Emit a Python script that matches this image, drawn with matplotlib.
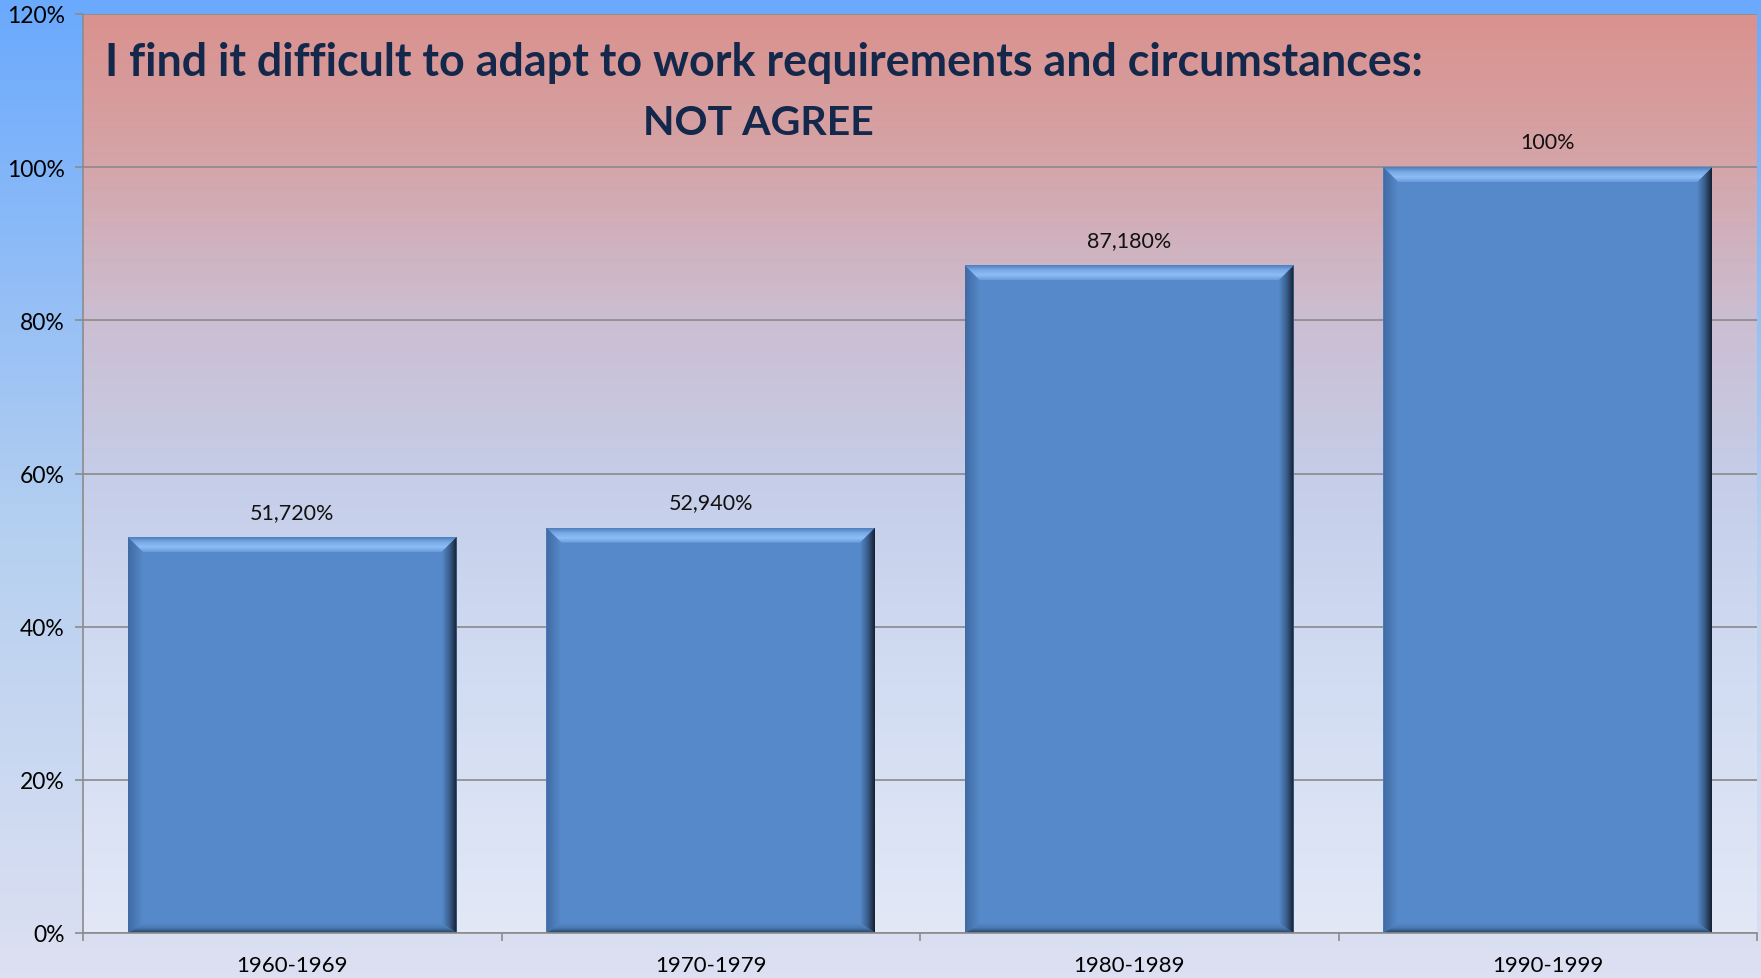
import numpy as np
import matplotlib
matplotlib.use('Agg')
import matplotlib.pyplot as plt
from matplotlib.colors import LinearSegmentedColormap
from matplotlib.patches import Polygon

plt.rcParams['font.family'] = ['Lato', 'DejaVu Sans']

# Data
categories = ['1960-1969', '1970-1979', '1980-1989', '1990-1999']
values = [51.72, 52.94, 87.18, 100.0]
labels = ['51,720%', '52,940%', '87,180%', '100%']
yticks = [0, 20, 40, 60, 80, 100, 120]

W, H = 1761, 979
fig = plt.figure(figsize=(W / 100, H / 100), dpi=100)

# figure background gradient (blue top -> lavender bottom)
bg = fig.add_axes([0, 0, 1, 1], zorder=-2)
bg_cmap = LinearSegmentedColormap.from_list(
    'bg', [(0, '#dde0f2'), (0.45, '#b6d0f0'), (1, '#6aa9fd')])
bg.imshow(np.linspace(0, 1, 256).reshape(-1, 1), cmap=bg_cmap,
          aspect='auto', origin='lower', extent=[0, 1, 0, 1])
bg.axis('off')

left, right, top, bottom = 83, 1757, 15, 934
ax = fig.add_axes([left / W, (H - bottom) / H, (right - left) / W, (bottom - top) / H])
ax.patch.set_alpha(0)

xmin, xmax, ymin, ymax = -0.5, 3.5, 0, 120

# plot area gradient (pink top -> pale blue bottom)
ax_cmap = LinearSegmentedColormap.from_list(
    'pa', [(0, '#e2e8f6'), (0.3, '#d0dbf2'), (0.5, '#c5cde8'),
           (0.68, '#ccbdd0'), (0.85, '#d5a3a6'), (1, '#da928e')])
ax.imshow(np.linspace(0, 1, 256).reshape(-1, 1), cmap=ax_cmap, aspect='auto',
          origin='lower', extent=[xmin, xmax, ymin, ymax], zorder=0)

x = np.arange(len(categories))
face = '#5689c9'
bars = ax.bar(x, values, width=0.785, color=face, zorder=3)

# bevel look on each bar
px_x = (right - left) / (xmax - xmin)
px_y = (bottom - top) / (ymax - ymin)
bx = 15 / px_x
by = 15 / px_y
byb = 10 / px_y


def grad(poly_pts, extent, colors, horizontal):
    poly = Polygon(poly_pts, closed=True, facecolor='none', edgecolor='none',
                   transform=ax.transData)
    ax.add_patch(poly)
    cm = LinearSegmentedColormap.from_list('b', colors)
    arr = np.linspace(0, 1, 64)
    arr = arr.reshape(1, -1) if horizontal else arr.reshape(-1, 1)
    im = ax.imshow(arr, cmap=cm, aspect='auto', origin='lower',
                   extent=extent, zorder=4)
    im.set_clip_path(poly)


for b in bars:
    x0, x1 = b.get_x(), b.get_x() + b.get_width()
    y0, y1 = 0, b.get_height()
    # left
    grad([(x0, y0), (x0 + bx, y0 + byb), (x0 + bx, y1 - by), (x0, y1)],
         [x0, x0 + bx, y0, y1], ['#3f6aa3', face], True)
    # right
    grad([(x1, y0), (x1 - bx, y0 + byb), (x1 - bx, y1 - by), (x1, y1)],
         [x1 - bx, x1, y0, y1], [face, '#3b5f8e', '#14202f'], True)
    # bottom
    grad([(x0, y0), (x1, y0), (x1 - bx, y0 + byb), (x0 + bx, y0 + byb)],
         [x0, x1, y0, y0 + byb], ['#25405f', '#4a78b2', face], False)
    # top
    grad([(x0, y1), (x1, y1), (x1 - bx, y1 - by), (x0 + bx, y1 - by)],
         [x0, x1, y1 - by, y1], ['#6b9ddc', '#8cbdf5', '#7aaae6', '#4c7dbf'], False)

for xi, v, lab in zip(x, values, labels):
    ax.annotate(lab, (xi, v), xytext=(0, 18), textcoords='offset points',
                ha='center', va='center', fontsize=15.5, color='#111111', zorder=6)

ax.set_xlim(xmin, xmax)
ax.set_ylim(ymin, ymax)
ax.set_yticks(yticks)
ax.set_yticklabels([f'{t}%' for t in yticks])
ax.set_xticks(x)
ax.set_xticklabels(categories)
ax.set_xticks(np.arange(len(categories) + 1) - 0.5, minor=True)
ax.tick_params(axis='x', which='major', length=0, pad=16, labelsize=16)
ax.tick_params(axis='x', which='minor', length=6, color='#8c8c8c', width=1.2)
ax.tick_params(axis='y', length=6, color='#8c8c8c', width=1.2, pad=7, labelsize=16.5)

ax.grid(axis='y', color='#8a8a8a', linewidth=1.2, zorder=1)
ax.set_axisbelow(True)
for s in ['top', 'right']:
    ax.spines[s].set_visible(False)
for s in ['left', 'bottom']:
    ax.spines[s].set_color('#8c8c8c')
    ax.spines[s].set_linewidth(1.2)
    ax.spines[s].set_zorder(5)

title_color = '#14284b'
fig.text(764 / W, 1 - 76 / H,
         'I find it difficult to adapt to work requirements and circumstances:',
         ha='center', va='baseline', fontsize=32.3, fontweight='bold', color=title_color)
fig.text(758 / W, 1 - 135 / H, 'NOT AGREE', ha='center', va='baseline',
         fontsize=29.5, fontweight='bold', color=title_color)

fig.savefig('out.png', dpi=100)
